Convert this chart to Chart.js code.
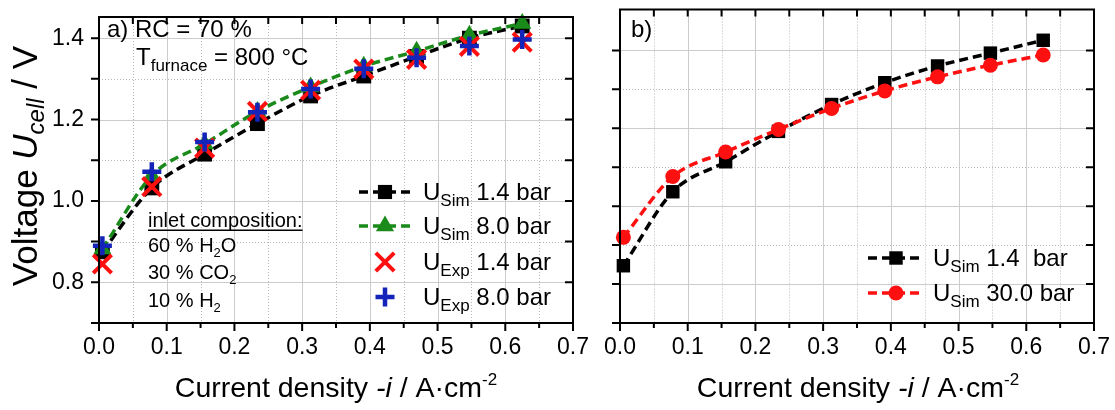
<!DOCTYPE html>
<html>
<head>
<meta charset="utf-8">
<script src="https://cdn.jsdelivr.net/npm/chart.js@4.4.1/dist/chart.umd.min.js"></script>
<style>
    html, body { margin: 0; padding: 0; background: #fff; }
    #wrap { position: relative; width: 1115px; height: 410px; overflow: hidden; }
    canvas { position: absolute; top: 0; }
    #chartA { left: 0; }
    #chartB { left: 575px; }
</style>
</head>
<body>
<div id="wrap">
    <canvas id="chartA" width="590" height="410"></canvas>
    <canvas id="chartB" width="540" height="410"></canvas>
</div>
<script>
// current density -i / A cm^-2
const currentDensity = [0.005, 0.078, 0.156, 0.234, 0.3125, 0.391, 0.469, 0.547, 0.625];

// panel a) RC = 70 %, 800 °C
const simA_1_4 = [0.875, 1.032, 1.115, 1.19, 1.258, 1.307, 1.355, 1.400, 1.430];
const simA_8_0 = [0.882, 1.062, 1.140, 1.220, 1.280, 1.331, 1.368, 1.407, 1.436];
const expA_1_4 = [0.845, 1.035, 1.130, 1.220, 1.272, 1.324, 1.348, 1.380, 1.390];
const expA_8_0 = [0.890, 1.072, 1.145, 1.218, 1.275, 1.325, 1.352, 1.381, 1.397];

// panel b)
const simB_1_4 = [0.847, 1.037, 1.114, 1.192, 1.261, 1.317, 1.360, 1.393, 1.426];
const simB_30_0 = [0.920, 1.076, 1.139, 1.197, 1.251, 1.296, 1.332, 1.362, 1.388];

// axes
const xTicks = [0, 0.1, 0.2, 0.3, 0.4, 0.5, 0.6, 0.7];
const xTickLabels = ['0.0', '0.1', '0.2', '0.3', '0.4', '0.5', '0.6', '0.7'];
const xMinor = [0.05, 0.15, 0.25, 0.35, 0.45, 0.55, 0.65];
const yTicks = [0.8, 1.0, 1.2, 1.4];
const yTickLabels = ['0.8', '1.0', '1.2', '1.4'];
const yMinor = [0.7, 0.9, 1.1, 1.3];

const FONT = "'Liberation Sans', Arial, sans-serif";
const GREEN = '#1a8a1a';
const BLUE = '#1423b8';
const RED = '#ff1010';

function pts(ys) {
    return currentDensity.map((x, k) => ({ x: x, y: ys[k] }));
}

function fontOf(p) {
    return (p.i ? 'italic ' : '') + p.s + 'px ' + FONT;
}

// draws text made of pieces (for sub- and superscripts)
function rich(ctx, parts, x, y, align) {
    let w = 0;
    parts.forEach(p => { ctx.font = fontOf(p); p.w = ctx.measureText(p.t).width; w += p.w; });
    let cx = align === 'center' ? x - w / 2 : x;
    parts.forEach(p => {
        ctx.font = fontOf(p);
        ctx.fillText(p.t, cx, y + (p.dy || 0));
        cx += p.w;
    });
    return w;
}

function marker(ctx, style, color, radius, lw, x, y) {
    ctx.save();
    ctx.fillStyle = color;
    ctx.strokeStyle = color;
    ctx.lineWidth = lw;
    Chart.helpers.drawPoint(ctx, { pointStyle: style, radius: radius, rotation: 0, borderWidth: lw }, x, y);
    ctx.restore();
}

function legendLine(ctx, color, x0, x1, y) {
    ctx.save();
    ctx.strokeStyle = color;
    ctx.lineWidth = 3.5;
    ctx.setLineDash([9, 5]);
    ctx.beginPath();
    ctx.moveTo(x0, y);
    ctx.lineTo(x1, y);
    ctx.stroke();
    ctx.restore();
}

// grid, frame and Origin-like tick marks
const framePlugin = {
    id: 'frame',
    beforeDatasetsDraw(chart) {
        const { ctx, chartArea: a, scales: { x, y } } = chart;
        ctx.save();
        ctx.lineWidth = 1;
        ctx.strokeStyle = '#cccccc';
        xTicks.forEach(v => {
            const px = Math.round(x.getPixelForValue(v)) + 0.5;
            ctx.beginPath(); ctx.moveTo(px, a.top); ctx.lineTo(px, a.bottom); ctx.stroke();
        });
        yTicks.forEach(v => {
            const py = Math.round(y.getPixelForValue(v)) + 0.5;
            ctx.beginPath(); ctx.moveTo(a.left, py); ctx.lineTo(a.right, py); ctx.stroke();
        });
        ctx.setLineDash([1, 2]);
        ctx.strokeStyle = '#b8b8b8';
        xMinor.forEach(v => {
            const px = Math.round(x.getPixelForValue(v)) + 0.5;
            ctx.beginPath(); ctx.moveTo(px, a.top); ctx.lineTo(px, a.bottom); ctx.stroke();
        });
        yMinor.forEach(v => {
            const py = Math.round(y.getPixelForValue(v)) + 0.5;
            ctx.beginPath(); ctx.moveTo(a.left, py); ctx.lineTo(a.right, py); ctx.stroke();
        });
        ctx.restore();
    },
    afterDatasetsDraw(chart) {
        const { ctx, chartArea: a, scales: { x, y } } = chart;
        ctx.save();
        ctx.strokeStyle = '#000';
        ctx.lineWidth = 2;
        ctx.strokeRect(a.left, a.top, a.right - a.left, a.bottom - a.top);
        ctx.beginPath();
        xTicks.forEach(v => {
            const px = x.getPixelForValue(v);
            ctx.moveTo(px, a.bottom); ctx.lineTo(px, a.bottom + 8);
            ctx.moveTo(px, a.top); ctx.lineTo(px, a.top + 7);
        });
        xMinor.forEach(v => {
            const px = x.getPixelForValue(v);
            ctx.moveTo(px, a.bottom); ctx.lineTo(px, a.bottom + 5);
            ctx.moveTo(px, a.top); ctx.lineTo(px, a.top + 7);
        });
        yTicks.concat(yMinor).forEach(v => {
            const py = y.getPixelForValue(v);
            ctx.moveTo(a.left - 8, py); ctx.lineTo(a.left, py);
            ctx.moveTo(a.right - 8, py); ctx.lineTo(a.right, py);
        });
        ctx.stroke();
        ctx.restore();
    }
};

function xTitle(ctx, cx) {
    ctx.fillStyle = '#000';
    ctx.textBaseline = 'alphabetic';
    rich(ctx, [
        { t: 'Current density ', s: 28.5 },
        { t: '-i', s: 28.5, i: true },
        { t: ' / A\u00b7cm', s: 28.5 },
        { t: '-2', s: 17, dy: -12 }
    ], cx, 397, 'center');
}

function lineSet(label, data, color, style, radius) {
    return {
        label: label, data: data, borderColor: color, backgroundColor: color,
        borderWidth: 3.5, borderDash: [9, 5], cubicInterpolationMode: 'monotone',
        pointStyle: style, pointRadius: radius, pointBorderWidth: 0,
        pointBackgroundColor: color, clip: false
    };
}

function markSet(label, data, color, style, radius, lw) {
    return {
        label: label, data: data, showLine: false, borderColor: color, backgroundColor: color,
        pointStyle: style, pointRadius: radius, pointBorderWidth: lw, clip: false
    };
}

function axes(withYLabels, yMax, yWidth) {
    return {
        x: {
            type: 'linear', min: 0, max: 0.7,
            grid: { display: false, drawTicks: false }, border: { display: false },
            afterBuildTicks: s => { s.ticks = xTicks.map(v => ({ value: v })); },
            ticks: {
                padding: 11, color: '#000', font: { family: FONT, size: 23 },
                maxRotation: 0, autoSkip: false,
                callback: (v, k) => xTickLabels[k]
            },
            afterFit: s => { s.height = 87; s.paddingLeft = 0; s.paddingRight = 0; }
        },
        y: {
            type: 'linear', min: 0.7, max: yMax,
            grid: { display: false, drawTicks: false }, border: { display: false },
            afterBuildTicks: s => { s.ticks = yTicks.map(v => ({ value: v })); },
            ticks: {
                display: withYLabels, padding: 15, color: '#000', font: { family: FONT, size: 23 },
                callback: (v, k) => yTickLabels[k]
            },
            afterFit: s => { s.width = yWidth; s.paddingTop = 0; s.paddingBottom = 0; }
        }
    };
}

const baseOptions = {
    responsive: false,
    animation: false,
    events: [],
    plugins: { legend: { display: false }, tooltip: { enabled: false } }
};

// --- panel a ---
const notesA = {
    id: 'notesA',
    afterDraw(chart) {
        const ctx = chart.ctx;
        ctx.save();
        ctx.fillStyle = '#000';
        ctx.textBaseline = 'alphabetic';
        rich(ctx, [{ t: 'a) RC = 70 %', s: 24 }], 107, 37);
        rich(ctx, [{ t: 'T', s: 24 }, { t: 'furnace', s: 17, dy: 6 }, { t: ' = 800 \u00b0C', s: 24 }], 136, 65);

        const w = rich(ctx, [{ t: 'inlet composition:', s: 20 }], 148, 227);
        ctx.fillRect(148, 229.5, w, 1.5);
        rich(ctx, [{ t: '60 % H', s: 20 }, { t: '2', s: 13, dy: 5 }, { t: 'O', s: 20 }], 148, 252);
        rich(ctx, [{ t: '30 % CO', s: 20 }, { t: '2', s: 13, dy: 5 }], 148, 279);
        rich(ctx, [{ t: '10 % H', s: 20 }, { t: '2', s: 13, dy: 5 }], 148, 307);

        // legend
        const rows = [
            { c: '#000', st: 'rect', r: 10, lw: 0, line: true, sub: 'Sim', txt: ' 1.4 bar', y: 192 },
            { c: GREEN, st: 'triangle', r: 10.5, lw: 0, line: true, sub: 'Sim', txt: ' 8.0 bar', y: 226 },
            { c: RED, st: 'crossRot', r: 13, lw: 4, line: false, sub: 'Exp', txt: ' 1.4 bar', y: 262 },
            { c: BLUE, st: 'cross', r: 9.5, lw: 4.5, line: false, sub: 'Exp', txt: ' 8.0 bar', y: 297 }
        ];
        rows.forEach(r => {
            if (r.line) legendLine(ctx, r.c, 359, 411, r.y);
            marker(ctx, r.st, r.c, r.r, r.lw, 385, r.y);
            ctx.fillStyle = '#000';
            rich(ctx, [{ t: 'U', s: 24 }, { t: r.sub, s: 17, dy: 6 }, { t: r.txt, s: 24 }], 423, r.y + 8);
        });

        // y axis title
        ctx.translate(37, 166);
        ctx.rotate(-Math.PI / 2);
        rich(ctx, [
            { t: 'Voltage ', s: 35 },
            { t: 'U', s: 35, i: true },
            { t: 'cell', s: 24, i: true, dy: 7 },
            { t: ' / V', s: 35 }
        ], 0, 0, 'center');
        ctx.setTransform(1, 0, 0, 1, 0, 0);
        xTitle(ctx, 336);
        ctx.restore();
    }
};

new Chart(document.getElementById('chartA'), {
    type: 'line',
    data: {
        datasets: [
            markSet('U_Exp 8.0 bar', pts(expA_8_0), BLUE, 'cross', 9.5, 4.5),
            markSet('U_Exp 1.4 bar', pts(expA_1_4), RED, 'crossRot', 13, 4),
            lineSet('U_Sim 8.0 bar', pts(simA_8_0), GREEN, 'triangle', 10.5),
            lineSet('U_Sim 1.4 bar', pts(simA_1_4), '#000', 'rect', 10.5)
        ]
    },
    options: Object.assign({}, baseOptions, {
        layout: { padding: { top: 6, right: 16, left: 0, bottom: 0 } },
        scales: axes(true, 1.452, 99)
    }),
    plugins: [framePlugin, notesA]
});

// --- panel b ---
const notesB = {
    id: 'notesB',
    afterDraw(chart) {
        const ctx = chart.ctx;
        ctx.save();
        ctx.fillStyle = '#000';
        ctx.textBaseline = 'alphabetic';
        rich(ctx, [{ t: 'b)', s: 24 }], 56, 37);

        const rows = [
            { c: '#000', st: 'rect', r: 9.5, txt: ' 1.4  bar', y: 258 },
            { c: RED, st: 'circle', r: 7.5, txt: ' 30.0 bar', y: 293 }
        ];
        rows.forEach(r => {
            legendLine(ctx, r.c, 293, 346, r.y);
            marker(ctx, r.st, r.c, r.r, 0, 321, r.y);
            ctx.fillStyle = '#000';
            rich(ctx, [{ t: 'U', s: 24 }, { t: 'Sim', s: 17, dy: 6 }, { t: r.txt, s: 24 }], 358, r.y + 8);
        });
        xTitle(ctx, 283);
        ctx.restore();
    }
};

new Chart(document.getElementById('chartB'), {
    type: 'line',
    data: {
        datasets: [
            lineSet('U_Sim 30.0 bar', pts(simB_30_0), RED, 'circle', 7.5),
            lineSet('U_Sim 1.4 bar', pts(simB_1_4), '#000', 'rect', 9.5)
        ]
    },
    options: Object.assign({}, baseOptions, {
        layout: { padding: { top: 6, right: 21, left: 0, bottom: 0 } },
        scales: axes(false, 1.505, 45)
    }),
    plugins: [framePlugin, notesB]
});
</script>
</body>
</html>
